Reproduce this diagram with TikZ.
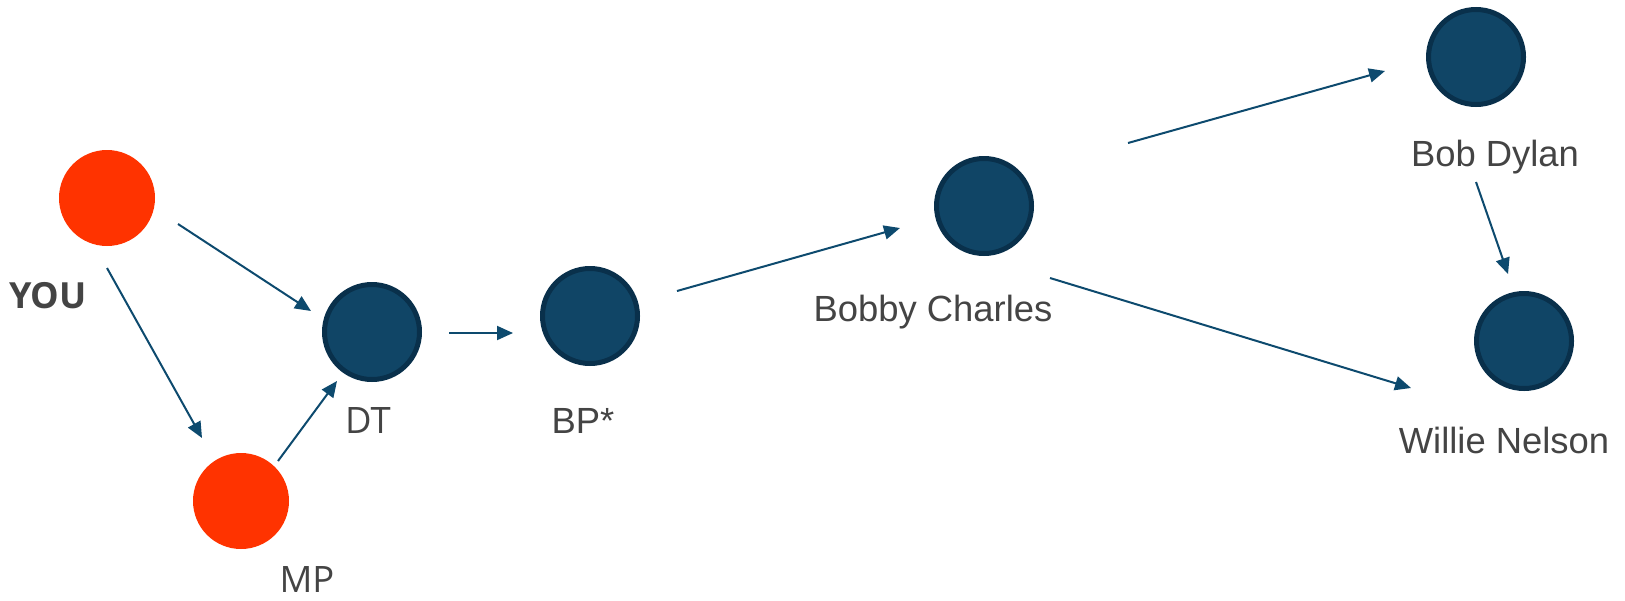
\documentclass[tikz,border=0pt]{standalone}
\usepackage{fontspec}
\setmainfont{Liberation Sans}
\newfontfamily\opensans{Open Sans}
\usetikzlibrary{arrows.meta}
\definecolor{youred}{HTML}{FF3300}
\definecolor{nodeblue}{HTML}{104566}
\definecolor{nodeedge}{HTML}{09304B}
\definecolor{arrowblue}{HTML}{0D4A6E}
\definecolor{labelgray}{HTML}{444444}
\tikzset{
  rednode/.style={circle,fill=youred,draw=none,inner sep=0pt,minimum size=48pt},
  bluenode/.style={circle,fill=nodeblue,draw=nodeedge,line width=2.5pt,inner sep=0pt,minimum size=47.5pt},
  lab/.style={text=labelgray,inner sep=0pt,anchor=base,font=\fontsize{18.2pt}{20pt}\selectfont},
  labos/.style={text=labelgray,inner sep=0pt,anchor=base,font=\opensans\fontsize{18.2pt}{20pt}\selectfont},
  conn/.style={draw=arrowblue,line width=1pt,-{Triangle[length=8pt,width=7pt]}}
}
\begin{document}
\begin{tikzpicture}[x=0.5pt,y=-0.5pt]
\useasboundingbox (0,0) rectangle (1625,600);
% nodes
\node[rednode] (you) at (107,198) {};
\node[rednode] (mp) at (241,501) {};
\node[bluenode] (dt) at (372,332) {};
\node[bluenode] (bp) at (590,316) {};
\node[bluenode] (bc) at (984,206) {};
\node[bluenode] (bd) at (1476,57) {};
\node[bluenode] (wn) at (1524,341) {};
% labels
\node[labos,font=\opensans\bfseries\fontsize{18pt}{20pt}\selectfont] (youlab) at (48,308) {YOU};
\node[labos] (mplab) at (307,592) {MP};
\node[labos] (dtlab) at (368,433) {DT};
\node[lab] (bplab) at (583,433) {BP*};
\node[lab] (bclab) at (933,321) {Bobby Charles};
\node[lab] (bdlab) at (1495,166) {Bob Dylan};
\node[lab] (wnlab) at (1504,453) {Willie Nelson};
% connector end points
\coordinate (a1s) at (178,224); \coordinate (a1e) at (311,311);
\coordinate (a2s) at (107,268); \coordinate (a2e) at (202,438);
\coordinate (a3s) at (278,461); \coordinate (a3e) at (337,381);
\coordinate (a4s) at (449,333); \coordinate (a4e) at (513,333);
\coordinate (a5s) at (677,291); \coordinate (a5e) at (900,228);
\coordinate (a6s) at (1128,143); \coordinate (a6e) at (1385,71);
\coordinate (a7s) at (1050,278); \coordinate (a7e) at (1411,388);
\coordinate (a8s) at (1476,182); \coordinate (a8e) at (1508,274);
% connectors
\draw[conn] (a1s) -- (a1e);
\draw[conn] (a2s) -- (a2e);
\draw[conn] (a3s) -- (a3e);
\draw[conn] (a4s) -- (a4e);
\draw[conn] (a5s) -- (a5e);
\draw[conn] (a6s) -- (a6e);
\draw[conn] (a7s) -- (a7e);
\draw[conn] (a8s) -- (a8e);
\end{tikzpicture}
\end{document}
